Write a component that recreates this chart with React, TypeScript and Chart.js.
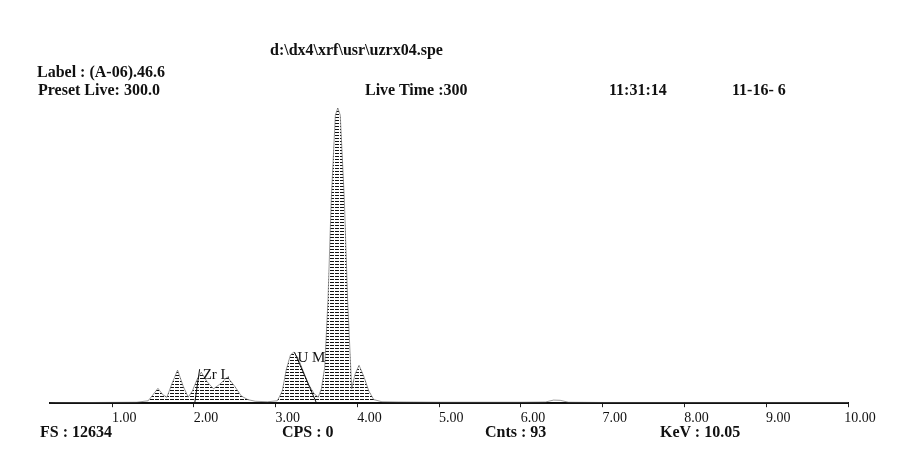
import React, { useEffect, useRef } from "react";
import { Chart, registerables } from "chart.js";

Chart.register(...registerables);

// Spectrum data (keV, counts)
const energies = [
  0.24, 0.3, 1.3, 1.44, 1.5, 1.56, 1.62, 1.67, 1.73, 1.8, 1.87, 1.93, 1.98, 2.04, 2.09, 2.16, 2.24, 2.32, 2.41, 2.5, 2.58, 2.66, 2.75, 2.9,
  3.02, 3.08, 3.13, 3.18, 3.22, 3.27, 3.33, 3.4, 3.47, 3.52, 3.56, 3.6, 3.64, 3.68, 3.73, 3.76, 3.79, 3.84, 3.88, 3.93, 3.97, 4.02, 4.08,
  4.14, 4.2, 4.3, 4.5, 5.0, 6.0, 6.3, 6.4, 6.48, 6.58, 7.0, 8.0, 9.0, 10.0,
];
const counts = [
  0, 20, 40, 100, 350, 620, 350, 250, 800, 1380, 700, 250, 500, 1000, 1290, 900, 600, 800, 1090, 700, 300, 150, 80, 60,
  100, 500, 1400, 2000, 2130, 1900, 1400, 800, 400, 250, 600, 1500, 4300, 8470, 12000, 12300, 12000, 8470, 4300, 600, 1200, 1580, 1100,
  500, 150, 60, 50, 40, 40, 50, 130, 120, 40, 30, 30, 30, 30,
];
const tickValues = [1, 2, 3, 4, 5, 6, 7, 8, 9, 10];
const xMin = 0.24;
const xMax = 10.0;
const fullScale = 12634;

// Element markers
const markerNames = ["Zr L", "U M"];
const markerFootEnergy = [2.01, 3.5];
const markerTopEnergy = [2.07, 3.23];
const markerTopCounts = [1418, 2127];

const headerTexts = [
  { t: "d:\\dx4\\xrf\\usr\\uzrx04.spe", x: 270, y: 50 },
  { t: "Label : (A-06).46.6", x: 37, y: 72 },
  { t: "Preset Live: 300.0", x: 38, y: 90 },
  { t: "Live Time :300", x: 365, y: 90 },
  { t: "11:31:14", x: 609, y: 90 },
  { t: "11-16- 6", x: 732, y: 90 },
  { t: "FS : 12634", x: 40, y: 432 },
  { t: "CPS : 0", x: 282, y: 432 },
  { t: "Cnts : 93", x: 485, y: 432 },
  { t: "KeV : 10.05", x: 660, y: 432 },
];

const FONT = '"Liberation Serif", "Times New Roman", serif';

function makePattern(): CanvasPattern | string {
  const c = document.createElement("canvas");
  c.width = 5;
  c.height = 3;
  const g = c.getContext("2d");
  if (!g) return "#333";
  g.fillStyle = "#111";
  g.fillRect(0, 0, 4, 1);
  const p = g.createPattern(c, "repeat");
  return p || "#333";
}

const markerPlugin = {
  id: "markers",
  afterDatasetsDraw(chart: any) {
    const { ctx, scales } = chart;
    const xs = scales.x;
    const ys = scales.y;
    ctx.save();
    ctx.strokeStyle = "#111";
    ctx.lineWidth = 1;
    ctx.fillStyle = "#111";
    ctx.font = `15px ${FONT}`;
    ctx.textBaseline = "middle";
    markerNames.forEach((name, i) => {
      const fx = xs.getPixelForValue(markerFootEnergy[i]);
      const fy = ys.getPixelForValue(0);
      const tx = xs.getPixelForValue(markerTopEnergy[i]);
      const ty = ys.getPixelForValue(markerTopCounts[i]);
      ctx.beginPath();
      ctx.moveTo(fx, fy);
      ctx.lineTo(tx, ty);
      ctx.stroke();
      ctx.fillText(name, tx + 3, ty + 6);
    });
    ctx.restore();
  },
};

export default function App() {
  const ref = useRef<HTMLCanvasElement>(null);
  useEffect(() => {
    if (!ref.current) return;
    const chart = new Chart(ref.current, {
      type: "line",
      data: {
        datasets: [
          {
            data: energies.map((e, i) => ({ x: e, y: counts[i] })),
            borderColor: "#555",
            borderWidth: 0.6,
            backgroundColor: makePattern() as any,
            fill: "origin",
            pointRadius: 0,
            tension: 0,
          },
        ],
      },
      options: {
        animation: false,
        responsive: false,
        layout: { padding: { left: 50, right: 76, top: 100, bottom: 30 } },
        plugins: { legend: { display: false }, tooltip: { enabled: false }, title: { display: false } },
        scales: {
          x: {
            type: "linear",
            min: xMin,
            max: xMax,
            afterBuildTicks: (axis: any) => {
              axis.ticks = tickValues.map((v) => ({ value: v }));
            },
            grid: { display: true, drawOnChartArea: false, drawTicks: true, tickLength: 4, color: "#222", lineWidth: 1 },
            border: { display: true, color: "#111", width: 2 },
            ticks: {
              color: "#111",
              font: { family: FONT, size: 14 },
              padding: 3,
              labelOffset: 12,
              maxRotation: 0,
              autoSkip: false,
              callback: (v: any) => Number(v).toFixed(2),
            },
          },
          y: { type: "linear", display: false, min: 0, max: fullScale },
        },
      },
      plugins: [markerPlugin],
    });
    return () => chart.destroy();
  }, []);

  return (
    <div style={{ position: "absolute", left: 0, top: 0, width: 924, height: 460, background: "#fff" }}>
      <canvas ref={ref} width={924} height={460} style={{ position: "absolute", left: 0, top: 0 }} />
      {headerTexts.map((h, i) => (
        <span
          key={i}
          style={{
            position: "absolute",
            left: h.x,
            top: h.y - 9,
            fontFamily: FONT,
            fontSize: 16,
            fontWeight: "bold",
            lineHeight: "18px",
            color: "#111",
            whiteSpace: "pre",
          }}
        >
          {h.t}
        </span>
      ))}
    </div>
  );
}
